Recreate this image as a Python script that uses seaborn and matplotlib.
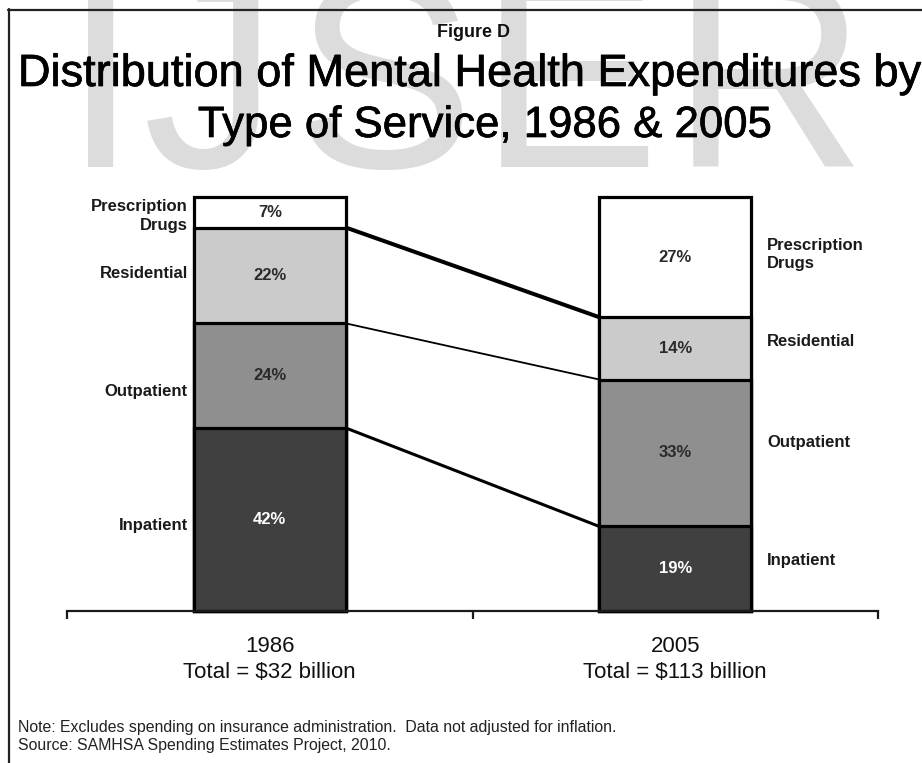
import numpy as np
import pandas as pd
import matplotlib
matplotlib.use("Agg")
import matplotlib.pyplot as plt
import matplotlib.patheffects as pe
import seaborn as sns
from matplotlib.lines import Line2D

# ---------------- data ----------------
years = ["1986", "2005"]
totals = ["Total = $32 billion", "Total = $113 billion"]
services = ["Inpatient", "Outpatient", "Residential", "Prescription\nDrugs"]
pct_1986 = [42, 24, 22, 7]
pct_2005 = [19, 33, 14, 27]
colors = ["#404040", "#8f8f8f", "#cbcbcb", "#ffffff"]
text_colors = ["#ffffff", "#2a2a2a", "#2a2a2a", "#2a2a2a"]

title_small = "Figure D"
title_l1 = "Distribution of Mental Health Expenditures by"
title_l2 = "Type of Service, 1986 & 2005"
note_l1 = "Note: Excludes spending on insurance administration.  Data not adjusted for inflation."
note_l2 = "Source: SAMHSA Spending Estimates Project, 2010."
watermark = ["I", "J", "S", "E", "R"]

# ---------------- setup ----------------
sns.set_theme(style="white")
plt.rcParams["font.family"] = ["Liberation Sans", "DejaVu Sans"]

W, H = 922, 763
fig = plt.figure(figsize=(W / 100, H / 100), dpi=100)
fig.patch.set_facecolor("white")


def fx(px):
    return px / W


def fy(py):
    return 1 - py / H


ax_l, ax_r, ax_t, ax_b = 67, 878, 197, 611
ax = fig.add_axes([fx(ax_l), fy(ax_b), fx(ax_r) - fx(ax_l), fy(ax_t) - fy(ax_b)])
ax.set_facecolor("none")

vals = {years[0]: np.array(pct_1986, float), years[1]: np.array(pct_2005, float)}
shares = {y: v / v.sum() for y, v in vals.items()}
cums = {y: np.cumsum(s) for y, s in shares.items()}

rows = []
for y in years:
    for k, s in enumerate(services):
        rows.append({"year": y, "service": s, "pct": vals[y][k],
                     "share": shares[y][k], "top": cums[y][k],
                     "bottom": cums[y][k] - shares[y][k]})
df = pd.DataFrame(rows)

bw = 0.375
# layered stacked bars (draw tallest first)
for k in reversed(range(len(services))):
    sub = df[df["service"] == services[k]]
    sns.barplot(data=sub, x="year", y="top", order=years, color=colors[k],
                saturation=1, width=bw, edgecolor="black", linewidth=2.3,
                errorbar=None, ax=ax)
for p in ax.patches:
    p.set_clip_on(False)

ax.set_xlim(-0.5, 1.5)
ax.set_ylim(0, 1)
ax.set_xlabel("")
ax.set_ylabel("")
ax.set_yticks([])
for s in ["top", "right", "left"]:
    ax.spines[s].set_visible(False)
ax.spines["bottom"].set_linewidth(1.6)
ax.spines["bottom"].set_color("#1a1a1a")

ax.set_xticks([0, 1])
ax.set_xticklabels([f"{y}\n{t}" for y, t in zip(years, totals)],
                   fontsize=16, linespacing=1.3, color="#111111")
ax.tick_params(axis="x", which="major", length=0, pad=18)
ax.set_xticks([-0.5, 0.5, 1.5], minor=True)
ax.tick_params(axis="x", which="minor", length=6, width=1.6,
               direction="out", color="#1a1a1a", bottom=True)

# connecting lines between segment boundaries
line_w = [2.2, 1.3, 2.9]
for k in range(len(services) - 1):
    ax.plot([0 + bw / 2, 1 - bw / 2], [cums[years[0]][k], cums[years[1]][k]],
            color="black", lw=line_w[k], solid_capstyle="butt", zorder=3,
            clip_on=False)

# percent labels
axh = ax_b - ax_t
for i, y in enumerate(years):
    for k in range(len(services)):
        yc = cums[y][k] - shares[y][k] / 2
        ax.text(i, yc, f"{int(vals[y][k])}%", ha="center", va="center",
                fontsize=12, fontweight="bold", color=text_colors[k], zorder=5)

# category labels
left_off = [6, 16, -2, 4]
right_off = [-8, -10, -7, -3]
axw = ax_r - ax_l
for k, s in enumerate(services):
    yc0 = cums[years[0]][k] - shares[years[0]][k] / 2 - left_off[k] / axh
    ax.text(0 - bw / 2 - 6 / axw * 2, yc0, s, ha="right", va="center",
            multialignment="right", fontsize=12, fontweight="bold",
            color="#1a1a1a", linespacing=1.3)
    yc1 = cums[years[1]][k] - shares[years[1]][k] / 2 - right_off[k] / axh
    ax.text(1 + bw / 2 + 16 / axw * 2, yc1, s, ha="left", va="center",
            multialignment="left", fontsize=12, fontweight="bold",
            color="#1a1a1a", linespacing=1.25)

# watermark (letter origins in px)
wm_x = [63, 143, 294, 479, 671]
for ch, x in zip(watermark, wm_x):
    fig.text(fx(x), fy(167), ch, ha="left", va="baseline", fontsize=195,
             color="#dcdcdc", zorder=1)

# titles
thick = [pe.withStroke(linewidth=0.5, foreground="black")]
fig.text(fx(473), fy(37), title_small, ha="center", va="baseline",
         fontsize=13, fontweight="bold", color="#111111", zorder=5)
fig.text(fx(469), fy(86), title_l1, ha="center", va="baseline",
         fontsize=32.5, color="#000000", zorder=5, path_effects=thick)
fig.text(fx(485), fy(137), title_l2, ha="center", va="baseline",
         fontsize=31.5, color="#000000", zorder=5, path_effects=thick)

# notes
fig.text(fx(18), fy(732), note_l1, ha="left", va="baseline", fontsize=11.4,
         color="#222222", zorder=5)
fig.text(fx(18), fy(750), note_l2, ha="left", va="baseline", fontsize=11.4,
         color="#222222", zorder=5)

# frame
fig.add_artist(Line2D([fx(8), fx(922)], [fy(9.5), fy(9.5)], color="#222222",
                      lw=1.6, transform=fig.transFigure))
fig.add_artist(Line2D([fx(9), fx(9)], [fy(9), fy(763)], color="#222222",
                      lw=1.6, transform=fig.transFigure))

fig.savefig("out.png", dpi=100)
